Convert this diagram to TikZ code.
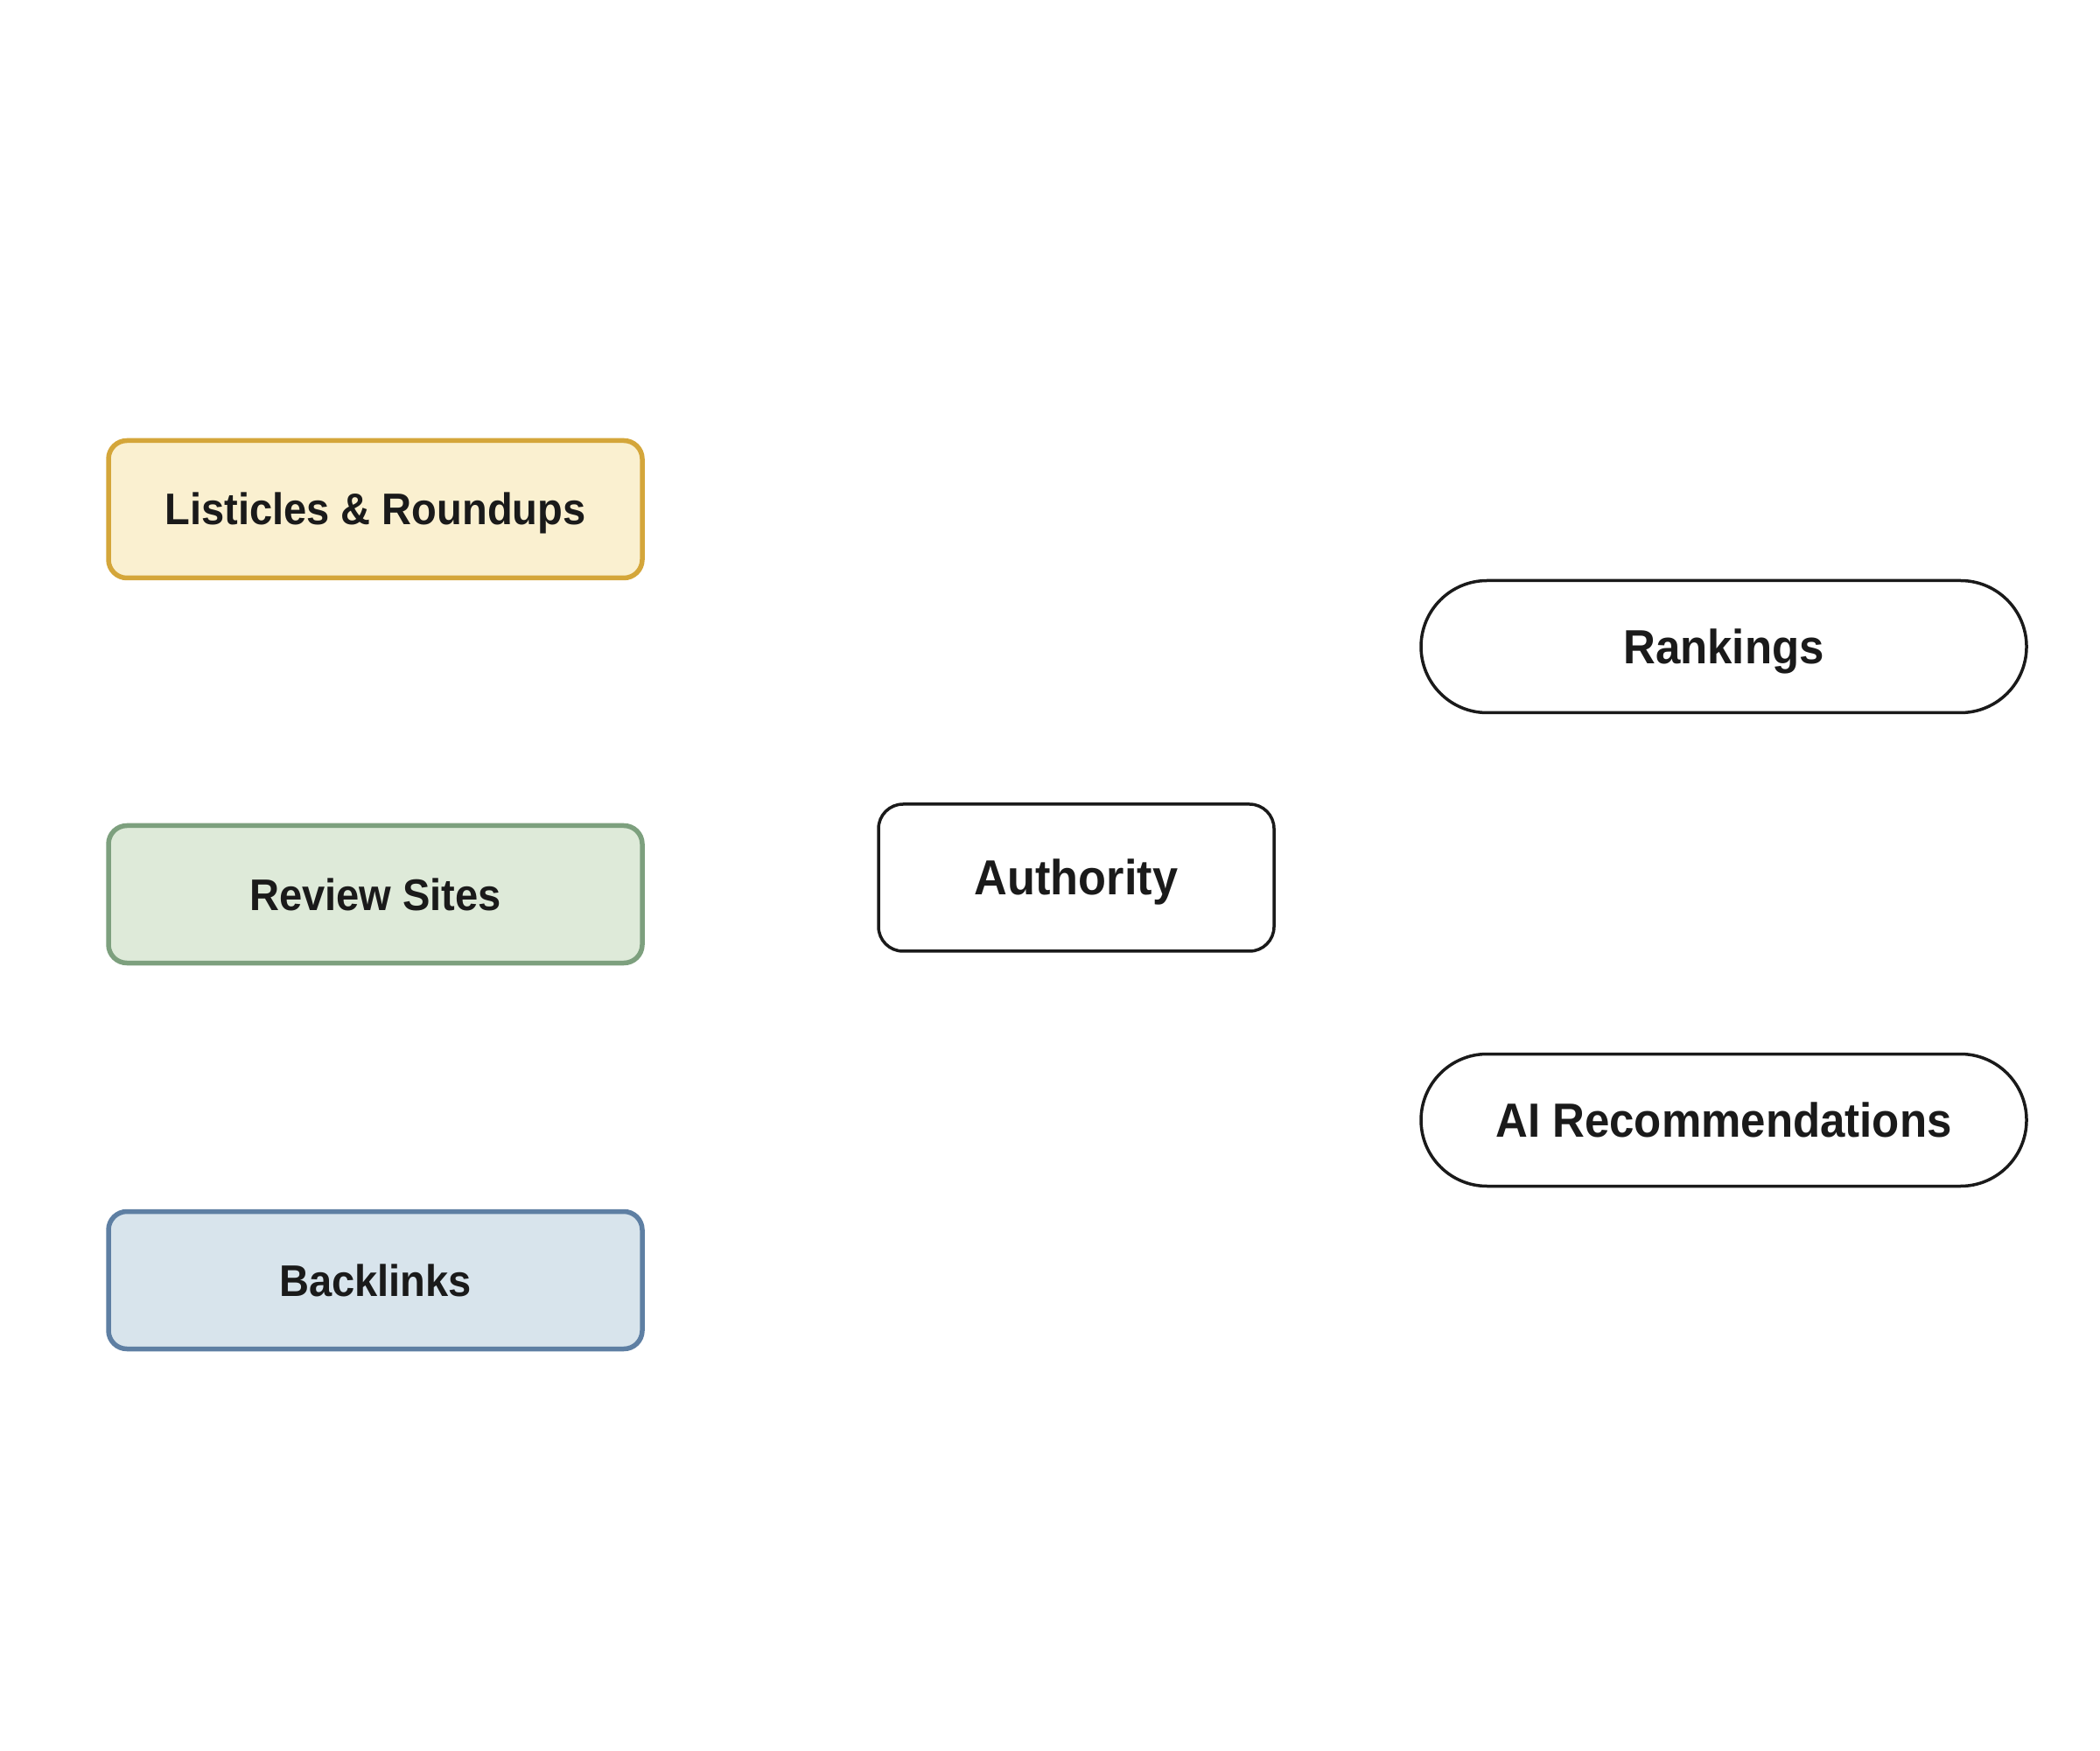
\documentclass[tikz,border=0pt]{standalone}
\usepackage{fontspec}
\setmainfont{Liberation Sans}[FakeStretch=0.93]
\usetikzlibrary{calc}
\usetikzlibrary{shapes.misc}

\definecolor{inkdark}{HTML}{1A1A1A}
\definecolor{listfill}{HTML}{FAF0D0}
\definecolor{listline}{HTML}{D4A63A}
\definecolor{revfill}{HTML}{DEEAD9}
\definecolor{revline}{HTML}{7DA07E}
\definecolor{linkfill}{HTML}{D8E4EC}
\definecolor{linkline}{HTML}{5E7FA3}

\tikzset{
  label text/.style={text=inkdark, text depth=0pt, inner sep=0},
  source/.style={label text, font=\fontsize{14.4}{17}\selectfont\bfseries, text height=0.36cm,
    rectangle, rounded corners=0.21cm, line width=0.055cm,
    minimum width=6.1cm, minimum height=1.57cm},
  hub/.style={label text, font=\fontsize{16}{19}\selectfont\bfseries, text height=0.40cm,
    rectangle, rounded corners=0.28cm, draw=inkdark, line width=0.035cm,
    fill=white, minimum width=4.52cm, minimum height=1.68cm},
  outcome/.style={label text, font=\fontsize{15.6}{19}\selectfont\bfseries, text height=0.39cm,
    rounded rectangle, draw=inkdark, line width=0.035cm,
    fill=white, minimum width=6.92cm, minimum height=1.51cm}
}

\begin{document}
\begin{tikzpicture}
\useasboundingbox (0,0) rectangle (24,20);
% sources
\node[source, fill=listfill, draw=listline] (listicles) at (4.29,14.18) {Listicles \& Roundups};
\node[source, fill=revfill, draw=revline] (reviews) at (4.29,9.78) {Review Sites};
\node[source, fill=linkfill, draw=linkline] (backlinks) at (4.29,5.37) {Backlinks};
% middle
\node[hub] (authority) at (12.30,9.97) {Authority};
% outcomes
\node[outcome] (rankings) at (19.70,12.61) {Rankings};
\node[outcome] (airecs) at (19.70,7.20) {AI Recommendations};
\end{tikzpicture}
\end{document}
